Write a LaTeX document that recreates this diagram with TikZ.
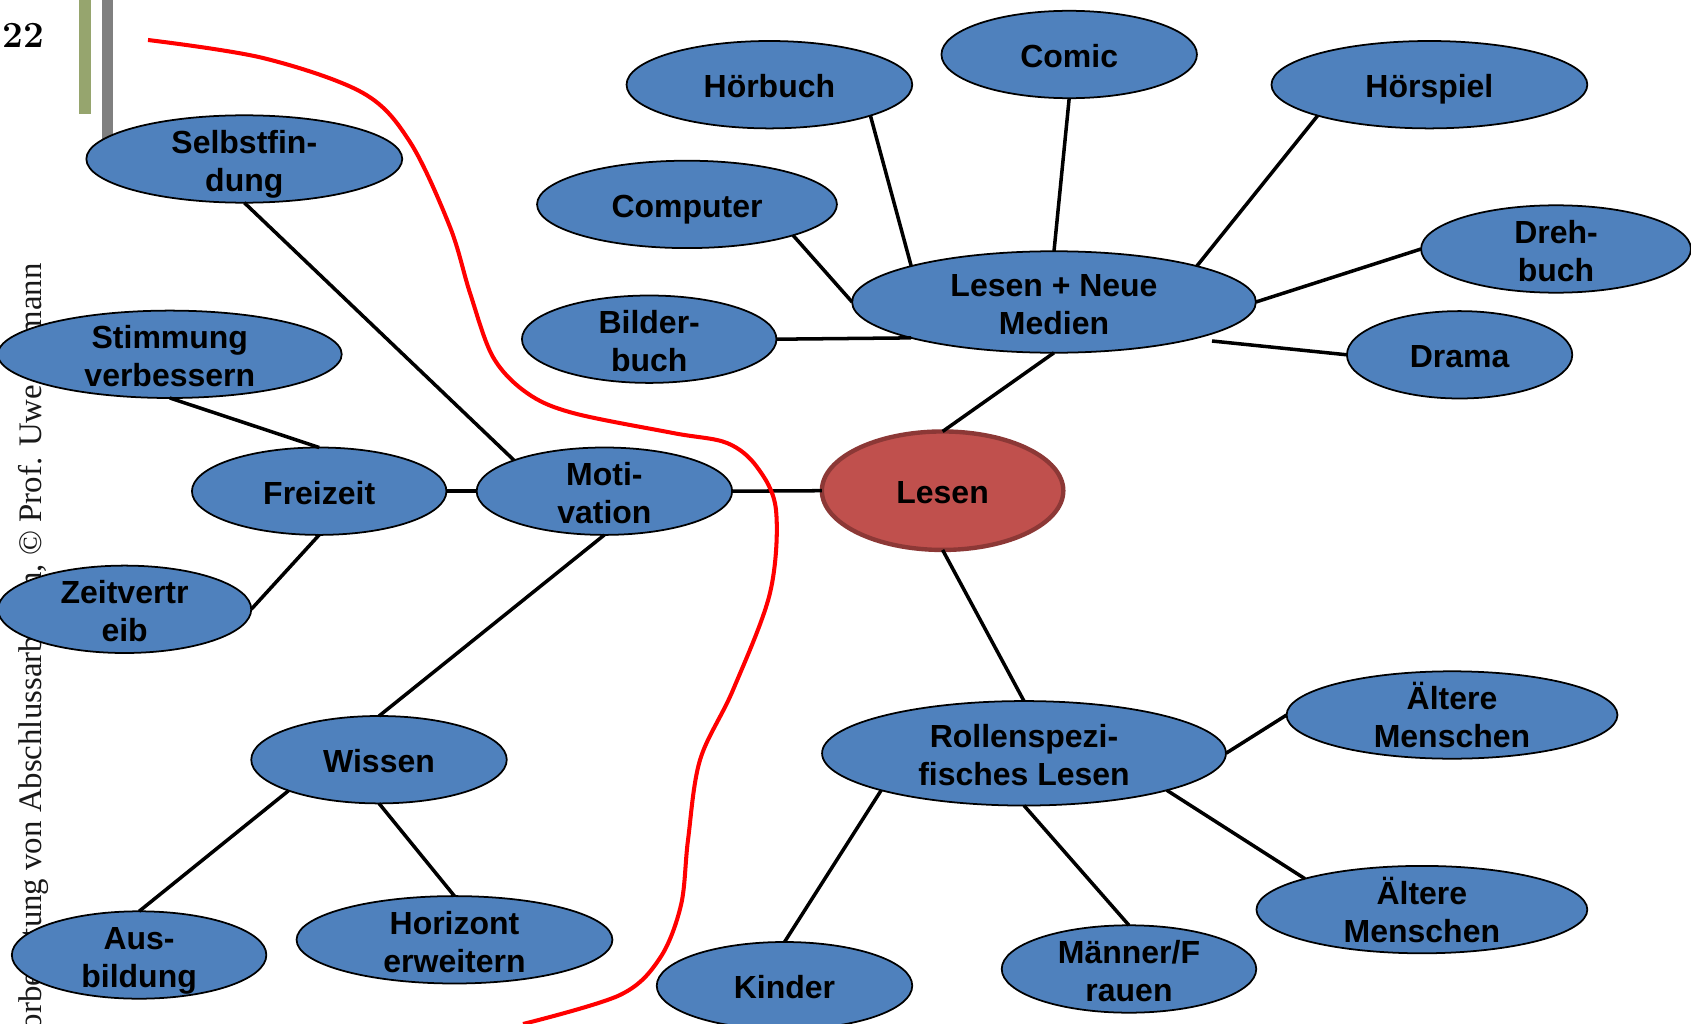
\documentclass[tikz,border=0pt]{standalone}
\usepackage{fontspec}
\usetikzlibrary{shapes.geometric}
\newfontfamily\topicfont{Liberation Sans}
\newfontfamily\creditfont{Liberation Serif}
\definecolor{topicblue}{RGB}{79,129,189}
\definecolor{corered}{RGB}{192,80,77}
\definecolor{coreedge}{RGB}{140,56,54}
\definecolor{barolive}{RGB}{150,165,110}
\definecolor{bargray}{RGB}{128,128,128}

\tikzset{
  blob/.style={ellipse, draw=black, line width=1pt, fill=topicblue,
    inner xsep=0pt, inner ysep=-6pt, outer sep=0pt,
    minimum width=#1*0.04cm, minimum height=1.748cm, align=center,
    text height=18.5pt, text depth=3.8pt,
    font=\topicfont\fontsize{18.2}{21.5}\selectfont\bfseries},
  twoline/.style={text height=40.7pt, text depth=3.8pt},
  core/.style={ellipse, draw=coreedge, line width=2.5pt, fill=corered,
    inner sep=0pt, outer sep=0pt, minimum width=4.83cm, minimum height=2.37cm,
    text height=18.5pt, text depth=3.8pt,
    font=\topicfont\fontsize{18.2}{21.5}\selectfont\bfseries},
  link/.style={line width=2pt},
  border/.style={red, line width=2.3pt}
}

\begin{document}
\begin{tikzpicture}[x=0.02cm, y=-0.02cm]
    \useasboundingbox (0,0) rectangle (1691,1024);

    % header
    \fill[barolive] (79,0) rectangle (90.7,114);
    \fill[bargray] (101.7,0) rectangle (113.3,150);
    \node[anchor=base west, inner sep=0pt, font=\fontsize{21}{24}\selectfont\bfseries] (pagenum) at (2,48) {22};
    \node[rotate=90, anchor=base east, inner sep=0pt, text=black!90,
      font=\creditfont\fontsize{18.7}{22}\selectfont] (credit) at (41.7,263)
      {Vorbereitung von Abschlussarbeiten, © Prof. Uwe Aßmann};

    % centre
    \node[core] (kern) at (942.6,490.7) {Lesen};

    % neue Medien
    \node[blob=202, twoline, minimum height=2.03cm] (medien) at (1054,302) {Lesen + Neue\\Medien};
    \node[blob=142.9] (hoerbuch) at (769.4,84.7) {Hörbuch};
    \node[blob=127.8] (comic) at (1069.2,54.5) {Comic};
    \node[blob=158] (hoerspiel) at (1429.4,84.7) {Hörspiel};
    \node[blob=150] (computer) at (687,204.4) {Computer};
    \node[blob=135, twoline] (drehbuch) at (1556,249) {Dreh-\\buch};
    \node[blob=127.3, twoline] (bilderbuch) at (649.2,339.2) {Bilder-\\buch};
    \node[blob=112.7] (drama) at (1459.6,354.8) {Drama};
    \coordinate (medienstub) at (1212,341);

    % Motivation
    \node[blob=127.8, twoline] (motiv) at (604.4,491.2) {Moti-\\vation};
    \node[blob=158, twoline] (selbst) at (244.3,159) {Selbstfin-\\dung};
    \node[blob=172, twoline] (stimmung) at (169.8,354.3) {Stimmung\\verbessern};
    \node[blob=127.3] (freizeit) at (319.2,491.2) {Freizeit};
    \node[blob=126.7, twoline] (zeitvertreib) at (124.6,609.3) {Zeitvertr\\eib};
    \node[blob=127.8] (wissen) at (379,759.7) {Wissen};
    \node[blob=127.3, twoline] (ausbildung) at (139.1,955) {Aus-\\bildung};
    \node[blob=158, twoline] (horizont) at (454.5,939.8) {Horizont\\erweitern};

    % Rollen
    \node[blob=202, twoline, minimum height=2.09cm] (rollen) at (1024,753.3) {Rollenspezi-\\fisches Lesen};
    \node[blob=165.5, twoline] (aelter1) at (1452,715) {Ältere\\Menschen};
    \node[blob=165.5, twoline] (aelter2) at (1421.9,909.6) {Ältere\\Menschen};
    \node[blob=127.8] (kinder) at (784.5,985.7) {Kinder};
    \node[blob=127.3, twoline] (maenner) at (1129,969) {Männer/F\\rauen};

    \draw[link] (kern.west) -- (motiv.east);
    \draw[link] (kern.north) -- (medien.south);
    \draw[link] (kern.south) -- (rollen.north);

    \draw[link] (medien.north west) -- (hoerbuch.south east);
    \draw[link] (medien.north) -- (comic.south);
    \draw[link] (medien.north east) -- (hoerspiel.south west);
    \draw[link] (medien.west) -- (computer.south east);
    \draw[link] (medien.south west) -- (bilderbuch.east);
    \draw[link] (medien.east) -- (drehbuch.west);
    \draw[link] (medienstub) -- (drama.west);

    \draw[link] (motiv.north west) -- (selbst.south);
    \draw[link] (motiv.west) -- (freizeit.east);
    \draw[link] (motiv.south) -- (wissen.north);
    \draw[link] (freizeit.north) -- (stimmung.south);
    \draw[link] (freizeit.south) -- (zeitvertreib.east);
    \draw[link] (wissen.south west) -- (ausbildung.north);
    \draw[link] (wissen.south) -- (horizont.north);

    \draw[link] (rollen.east) -- (aelter1.west);
    \draw[link] (rollen.south east) -- (aelter2.north west);
    \draw[link] (rollen.south) -- (maenner.north);
    \draw[link] (rollen.south west) -- (kinder.north);

    % Grenze
    \draw[border] plot[smooth, tension=0.55] coordinates {
      (148,40) (263,58) (363,93) (410,142) (450,227) (470,293) (493,357)
      (527,393) (573,413) (673,433) (727,443) (757,467) (776,510) (770,593)
      (733,690) (700,760) (688,840) (681,905) (660,958) (620,995) (523,1024)};
\end{tikzpicture}
\end{document}
